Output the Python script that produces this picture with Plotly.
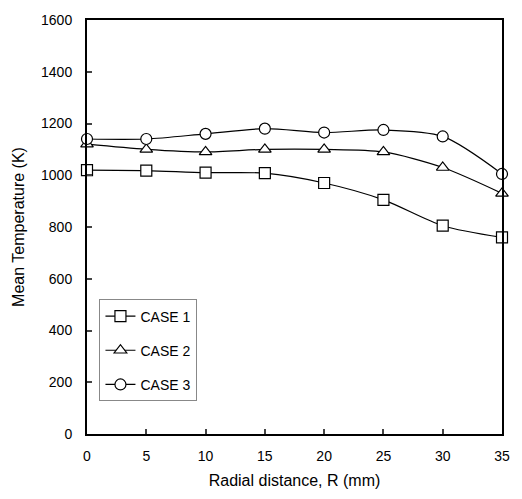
import plotly.graph_objects as go

radial = [0, 5, 10, 15, 20, 25, 30, 35]
case1 = [1020, 1018, 1010, 1008, 970, 905, 805, 760]
case2 = [1120, 1100, 1090, 1100, 1100, 1090, 1030, 930]
case3 = [1140, 1140, 1160, 1180, 1165, 1175, 1150, 1005]
names = ["CASE 1", "CASE 2", "CASE 3"]
symbols = ["square", "triangle-up", "circle"]
x_ticks = [0, 5, 10, 15, 20, 25, 30, 35]
y_ticks = [0, 200, 400, 600, 800, 1000, 1200, 1400, 1600]

fig = go.Figure()
for i, (name, ys, sym) in enumerate(zip(names, [case1, case2, case3], symbols)):
    fig.add_trace(go.Scatter(
        x=radial, y=ys, name=name, mode="lines+markers",
        line=dict(color="black", width=1.2, shape="spline", smoothing=0.8),
        marker=dict(symbol=sym, size=11, color="white", line=dict(width=1.2, color="black")),
        legendgroup=f"g{i}", cliponaxis=False,
    ))

fig.update_layout(
    width=522, height=499,
    margin=dict(l=87, r=13, t=15, b=63),
    paper_bgcolor="white", plot_bgcolor="white",
    font=dict(family="Liberation Sans, Arial, sans-serif", color="black", size=14),
    showlegend=True,
    legend=dict(
        x=0.03, y=0.325, xanchor="left", yanchor="top",
        bgcolor="white", bordercolor="#888", borderwidth=1,
        font=dict(size=14), tracegroupgap=13, itemwidth=30,
    ),
)
fig.update_xaxes(
    range=[0, 35], tickvals=x_ticks, ticks="inside", ticklen=5, tickwidth=1.5,
    showline=True, linecolor="black", linewidth=2, mirror=True, showgrid=False,
    zeroline=False, ticklabelstandoff=8,
    title=dict(text="Radial distance, R (mm)", font=dict(size=16), standoff=12),
    tickfont=dict(size=14),
)
fig.update_yaxes(
    range=[0, 1600], tickvals=y_ticks, ticks="inside", ticklen=5, tickwidth=1.5,
    showline=True, linecolor="black", linewidth=2, mirror=True, showgrid=False,
    zeroline=False, ticklabelstandoff=10,
    title=dict(text="Mean Temperature (K)", font=dict(size=16), standoff=12),
    tickfont=dict(size=14),
)

fig.write_html("out.html")
